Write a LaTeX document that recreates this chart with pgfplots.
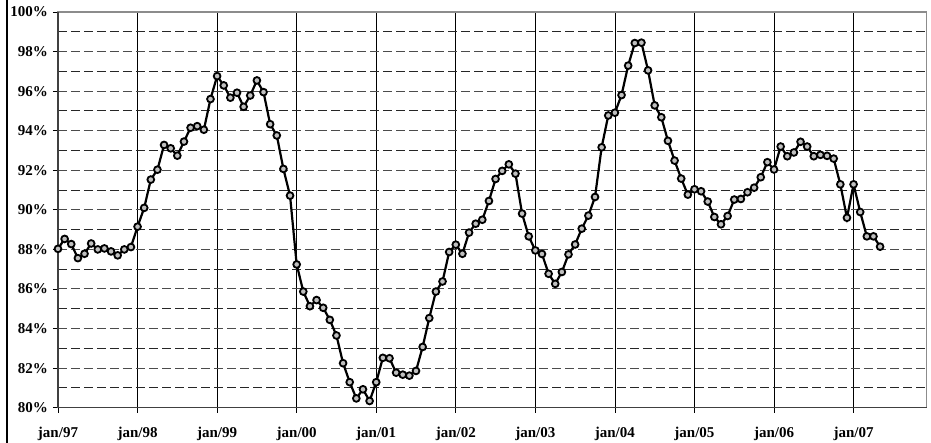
\documentclass[border=0pt]{standalone}
\usepackage{fontspec}
\setmainfont{Liberation Serif}
\usepackage{pgfplots}
\pgfplotsset{compat=1.18}
\begin{document}
\fontsize{15}{18}\selectfont\bfseries
\begin{tikzpicture}
\begin{axis}[
  at={(0,0)}, anchor=south west,
  scale only axis, width=868.5pt, height=395.7pt,
  xmin=0, xmax=131, ymin=80, ymax=100,
  xtick={0,12,...,120},
  xticklabels={jan/97,jan/98,jan/99,jan/00,jan/01,jan/02,jan/03,jan/04,jan/05,jan/06,jan/07},
  ytick={80,82,...,100},
  yticklabels={80\%,82\%,84\%,86\%,88\%,90\%,92\%,94\%,96\%,98\%,100\%},
  minor ytick={81,83,...,99},
  xtick pos=bottom, ytick pos=left,
  tick align=outside, major tick length=5pt, minor tick length=0pt,
  tick style={black, line width=0.8pt},
  xmajorgrids, ymajorgrids, yminorgrids,
  x grid style={black, line width=0.8pt},
  y grid style={black!70, line width=1pt, dash pattern=on 9pt off 4pt},
  minor y grid style={black!85, line width=1pt, dash pattern=on 9pt off 4pt},
  axis line style={draw=black!45, line width=1.5pt},
  xticklabel style={font=\fontsize{15}{18}\selectfont\bfseries, yshift=-9pt},
  yticklabel style={font=\fontsize{15}{18}\selectfont\bfseries, xshift=0pt},
  clip=false,
]
\addplot[black, line width=2.2pt, mark=*, mark size=3.4pt,
  mark options={fill=black!25, draw=black, line width=1.8pt}]
table[x=m, y=v] {
m v
0 88.03
1 88.53
2 88.27
3 87.56
4 87.78
5 88.30
6 88.00
7 88.05
8 87.90
9 87.70
10 88.00
11 88.12
12 89.15
13 90.10
14 91.53
15 92.03
16 93.28
17 93.11
18 92.74
19 93.45
20 94.15
21 94.23
22 94.05
23 95.60
24 96.76
25 96.29
26 95.67
27 95.92
28 95.21
29 95.78
30 96.54
31 95.95
32 94.33
33 93.76
34 92.07
35 90.72
36 87.24
37 85.87
38 85.13
39 85.44
40 85.05
41 84.44
42 83.65
43 82.25
44 81.29
45 80.47
46 80.93
47 80.34
48 81.29
49 82.52
50 82.50
51 81.77
52 81.67
53 81.62
54 81.86
55 83.07
56 84.53
57 85.87
58 86.38
59 87.87
60 88.24
61 87.78
62 88.85
63 89.30
64 89.50
65 90.45
66 91.56
67 91.97
68 92.30
69 91.83
70 89.81
71 88.66
72 87.95
73 87.77
74 86.77
75 86.26
76 86.86
77 87.75
78 88.25
79 89.05
80 89.71
81 90.65
82 93.16
83 94.77
84 94.91
85 95.80
86 97.29
87 98.43
88 98.45
89 97.05
90 95.28
91 94.68
92 93.49
93 92.49
94 91.58
95 90.77
96 91.04
97 90.94
98 90.42
99 89.64
100 89.27
101 89.69
102 90.52
103 90.55
104 90.89
105 91.12
106 91.65
107 92.41
108 92.04
109 93.20
110 92.71
111 92.90
112 93.44
113 93.20
114 92.71
115 92.78
116 92.73
117 92.59
118 91.29
119 89.60
120 91.29
121 89.89
122 88.66
123 88.66
124 88.14
};
\draw[black!75, line width=1.5pt] (rel axis cs:0,1) -- (rel axis cs:0,0) -- (rel axis cs:1,0);
\end{axis}
\draw[black, line width=1.3pt] (-51pt,-40pt) -- (-51pt,410pt);
\pgfresetboundingbox
\useasboundingbox (-58pt,-34.3pt) rectangle (873pt,407.7pt);
\end{tikzpicture}
\end{document}
